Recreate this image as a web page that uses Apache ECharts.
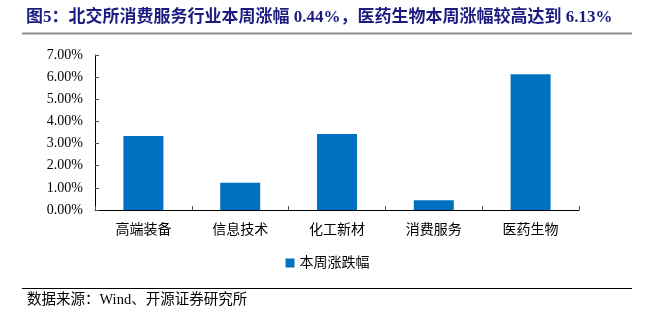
<!DOCTYPE html>
<html>
<head>
<meta charset="utf-8">
<script src="https://cdn.jsdelivr.net/npm/echarts@6/dist/echarts.min.js"></script>
<style>
  html, body { margin: 0; padding: 0; background: #fff; }
  #chart { width: 655px; height: 322px; }
</style>
</head>
<body>
<div id="chart"></div>
<script>
// 北交所各行业本周涨跌幅（%）
const categories = ['高端装备', '信息技术', '化工新材', '消费服务', '医药生物'];
const weeklyChange = [3.34, 1.23, 3.43, 0.44, 6.13];
const seriesName = '本周涨跌幅';
const titleText = '图5：北交所消费服务行业本周涨幅 0.44%，医药生物本周涨幅较高达到 6.13%';
const sourceText = '数据来源：Wind、开源证券研究所';

const serif = '"Liberation Serif", "Times New Roman", "Noto Sans CJK SC", serif';

const chart = echarts.init(document.getElementById('chart'));
chart.setOption({
  animation: false,
  backgroundColor: '#fff',
  grid: { left: 95, right: 76, top: 55, bottom: 112, containLabel: false },
  legend: {
    data: [seriesName],
    left: 'center',
    top: 251,
    itemWidth: 9,
    itemHeight: 9,
    icon: 'rect',
    itemGap: 4,
    textStyle: { fontFamily: serif, fontSize: 14, color: '#000' }
  },
  xAxis: {
    type: 'category',
    data: categories,
    axisLine: { lineStyle: { color: '#000', width: 1 } },
    axisTick: { show: true, alignWithLabel: false, length: 4, inside: true, lineStyle: { color: '#555' } },
    axisLabel: { fontFamily: serif, fontSize: 14, color: '#000', margin: 13 }
  },
  yAxis: {
    type: 'value',
    min: 0,
    max: 7,
    interval: 1,
    axisLine: { show: true, lineStyle: { color: '#000', width: 1 } },
    axisTick: { show: true, inside: true, length: 4, lineStyle: { color: '#555' } },
    splitLine: { show: false },
    axisLabel: {
      fontFamily: serif, fontSize: 14, color: '#000', margin: 12,
      formatter: v => v.toFixed(2) + '%'
    }
  },
  series: [{
    name: seriesName,
    type: 'bar',
    data: weeklyChange,
    barWidth: 40,
    itemStyle: { color: '#0070C0' }
  }],
  graphic: [
    {
      type: 'text', left: 26, top: 9,
      style: {
        text: titleText,
        font: 'bold 17px "Liberation Serif", "Noto Sans CJK SC", serif',
        fill: '#1c1c80'
      }
    },
    {
      type: 'line', shape: { x1: 22, y1: 33.5, x2: 632, y2: 33.5 },
      style: { stroke: '#8c8c8c', lineWidth: 2 }
    },
    {
      type: 'line', shape: { x1: 22, y1: 288.5, x2: 632, y2: 288.5 },
      style: { stroke: '#000', lineWidth: 1 }
    },
    {
      type: 'text', left: 27, top: 293,
      style: {
        text: sourceText,
        font: '14.5px "Liberation Serif", "Noto Sans CJK SC", serif',
        fill: '#000'
      }
    }
  ]
});
</script>
</body>
</html>
